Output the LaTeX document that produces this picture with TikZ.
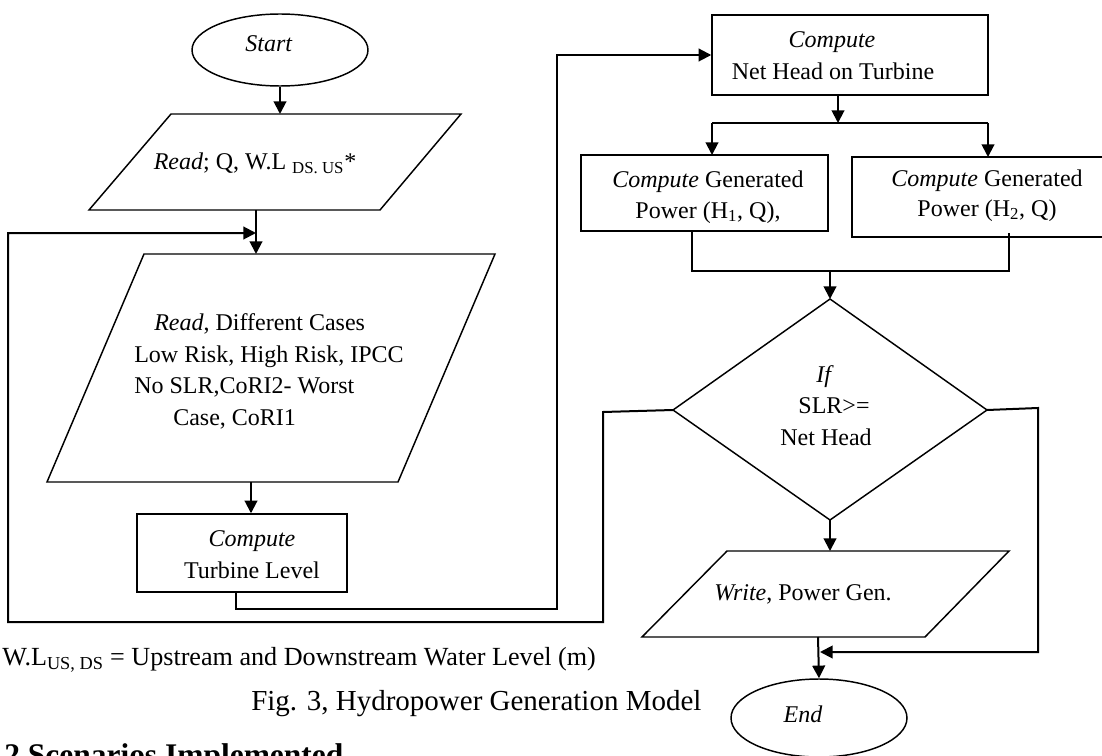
\documentclass[tikz,border=0pt]{standalone}
\usepackage{fontspec}
\setmainfont{Liberation Serif}
\usetikzlibrary{arrows.meta,shapes.geometric}
\begin{document}
\begin{tikzpicture}[x=0.75pt,y=-0.75pt,
  conn/.style={line width=1.5pt},
  arr/.style={line width=1.5pt,-{Triangle[length=9.5pt,width=9.5pt]}},
  shp/.style={draw,line width=1.1pt},
  txt/.style={font=\fontsize{18}{24}\selectfont,inner sep=0pt,anchor=base},
  txtl/.style={txt,anchor=base west}]
\useasboundingbox (0,0) rectangle (1102,756);

% ---------- left column ----------
\node[shp,ellipse,minimum width=132pt,minimum height=54pt,inner sep=0pt] (start) at (280,50) {};
\node[txt] (startT) at (269,52) {\textit{Start}};

\draw[shp] (171,114) coordinate (p1tl) -- (461,114) coordinate (p1tr)
  -- (380,210) coordinate (p1br) -- (89,210) coordinate (p1bl) -- cycle;
\node[txt] (read1) at (255,170) {\textit{Read}; Q, W.L \textsubscript{DS. US}*};

\draw[shp] (144,254) coordinate (p2tl) -- (495,254) coordinate (p2tr)
  -- (398,482) coordinate (p2br) -- (47,482) coordinate (p2bl) -- cycle;
\node[txtl] (r2a) at (154,330) {\textit{Read}, Different Cases};
\node[txtl] (r2b) at (134,362) {Low Risk, High Risk, IPCC};
\node[txtl] (r2c) at (134,393) {No SLR,CoRI2- Worst};
\node[txtl] (r2d) at (173,425) {Case, CoRI1};

\node[shp,rectangle,minimum width=157.5pt,minimum height=58.5pt,inner sep=0pt] (tb) at (242,553) {};
\node[txt] (tbA) at (252,546) {\textit{Compute}};
\node[txt] (tbB) at (252,578) {Turbine Level};

% ---------- right column ----------
\node[shp,rectangle,minimum width=207pt,minimum height=60pt,inner sep=0pt] (nh) at (850,55) {};
\node[txt] (nhA) at (832,48) {\textit{Compute}};
\node[txt] (nhB) at (833,80) {Net Head on Turbine};

\node[shp,rectangle,minimum width=185.25pt,minimum height=57pt,inner sep=0pt] (g1) at (704.5,193) {};
\node[txt] (g1A) at (708,187) {\textit{Compute} Generated};
\node[txt] (g1B) at (708,218) {Power (H\textsubscript{1}, Q),};

\node[shp,rectangle,minimum width=201pt,minimum height=60pt,inner sep=0pt] (g2) at (986,197) {};
\node[txt] (g2A) at (987,186) {\textit{Compute} Generated};
\node[txt] (g2B) at (987,216) {Power (H\textsubscript{2}, Q)};

\draw[shp] (830,299) coordinate (dT) -- (987,410) coordinate (dR)
  -- (830,520) coordinate (dB) -- (673,410) coordinate (dL) -- cycle;
\node[txt] (ifA) at (825,382) {\textit{If}};
\node[txt] (ifB) at (834,413) {SLR>=};
\node[txt] (ifC) at (826,445) {Net Head};

\draw[shp] (727,551) coordinate (wtl) -- (1009,551) coordinate (wtr)
  -- (925,637) coordinate (wbr) -- (642,637) coordinate (wbl) -- cycle;
\node[txt] (wr) at (803,600) {\textit{Write}, Power Gen.};

\node[shp,ellipse,minimum width=132pt,minimum height=58.5pt,inner sep=0pt] (end) at (819,718) {};
\node[txt] (endT) at (803,722) {\textit{End}};

% ---------- connectors ----------
\coordinate (p1top) at (280,114);
\draw[arr] (start.south) -- (p1top);
\coordinate (a1s) at (256,210);
\coordinate (p2top) at (256,254);
\draw[arr] (a1s) -- (p2top);
\coordinate (loopin) at (256,233);
\draw[arr] (dL) -- (603,412) -- (603,622) -- (8,622) -- (8,233) -- (loopin);

\coordinate (p2bot) at (251,482);
\draw[arr] (p2bot) -- (p2bot |- tb.north);

\coordinate (tbout) at (236,592);
\draw[arr] (tbout) -- (236,609) -- (557,609) -- (557,55) -- (nh.west);

\coordinate (nhout) at (838,95);
\coordinate (split) at (838,123);
\draw[arr] (nhout) -- (split);
\draw[conn] (712,123) -- (988,123);
\draw[arr] (712,123) -- (712,155);
\draw[arr] (988,123) -- (988,157);

\coordinate (g1out) at (692,231);
\coordinate (g2out) at (1009,233);
\coordinate (merge) at (830,271);
\draw[conn] (g1out) -- (692,271) -- (1009,271) -- (g2out);
\draw[arr] (merge) -- (dT);

\coordinate (wtop) at (830,551);
\draw[arr] (dB) -- (wtop);
\coordinate (wout) at (818,637);
\draw[arr] (wout) -- (end.north);
\coordinate (joinR) at (820,652);
\draw[arr] (dR) -- (1038,408) -- (1038,652) -- (joinR);

% ---------- notes ----------
\node[anchor=base west,inner sep=0pt,font=\fontsize{19.6}{24}\selectfont] (note) at (2,665)
  {W.L\textsubscript{US, DS} = Upstream and Downstream Water Level (m)};
\node[anchor=base west,inner sep=0pt,font=\fontsize{21.75}{26}\selectfont] (cap) at (251,710)
  {Fig. 3, Hydropower Generation Model};
\node[anchor=base west,inner sep=0pt,font=\bfseries\fontsize{23.6}{28}\selectfont] (sec) at (4,765)
  {2 Scenarios Implemented};
\end{tikzpicture}
\end{document}
